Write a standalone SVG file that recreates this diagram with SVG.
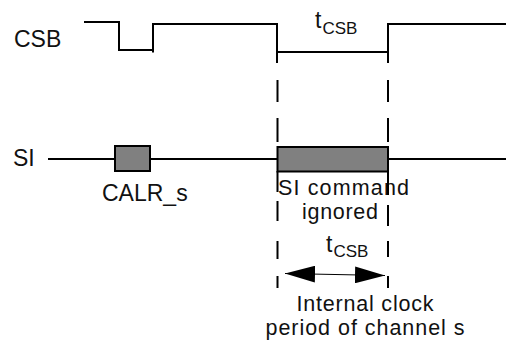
<svg xmlns="http://www.w3.org/2000/svg" width="506" height="341" viewBox="0 0 506 341">
  <style>
    .wave { fill: none; stroke: #000; stroke-width: 2; stroke-linecap: butt; stroke-linejoin: miter; }
    .dash { fill: none; stroke: #000; stroke-width: 2; }
    .box { fill: #808080; stroke: #000; stroke-width: 2; }
    .lbl { font-family: "Liberation Sans", Arial, sans-serif; font-size: 23px; fill: #111; }
    .lbl2 { font-family: "Liberation Sans", Arial, sans-serif; font-size: 21.5px; fill: #111; }
    .arrow { fill: none; stroke: #000; stroke-width: 1.2; }
  </style>
  <defs>
    <marker id="head" markerUnits="userSpaceOnUse" markerWidth="30" markerHeight="17" refX="30" refY="8.5" orient="auto-start-reverse">
      <path d="M0,0 L30,8.5 L0,17 Z" fill="#000"/>
    </marker>
  </defs>
  <rect width="506" height="341" fill="#fff"/>

  <g id="csb-signal">
    <text class="lbl" x="14" y="46.5">CSB</text>
    <polyline class="wave" points="84,22 119,22 119,50 153,50"/>
    <polyline class="wave" points="153,52.5 153,24 277,24 277,52 388,52"/>
    <polyline class="wave" points="277,52 277,63"/>
    <polyline class="wave" points="388,63 388,24 506,24"/>
    <text class="lbl" x="315" y="28" font-size="22">t<tspan dx="1" dy="6" font-size="17">CSB</tspan></text>
  </g>

  <g id="si-signal">
    <text class="lbl" x="13" y="166" font-size="22">SI</text>
    <line class="wave" x1="48" y1="159" x2="115" y2="159"/>
    <line class="wave" x1="150" y1="159" x2="277" y2="159"/>
    <line class="wave" x1="388" y1="159" x2="506" y2="159"/>
  </g>

  <g id="calr-box">
    <rect class="box" x="115" y="146" width="35" height="25"/>
    <text class="lbl" x="102" y="200.5">CALR_s</text>
  </g>

  <g id="ignored-box">
    <rect class="box" x="277.5" y="147" width="110.5" height="24.5"/>
    <text class="lbl2" x="278" y="195" textLength="131" lengthAdjust="spacing">SI command</text>
    <text class="lbl2" x="302" y="219" textLength="76" lengthAdjust="spacing">ignored</text>
  </g>

  <g id="connectors">
    <path class="dash" d="M277.5,80 V102 M277.5,118 V142 M277.5,171 V192 M277.5,201 V221 M277.5,241 V259 M277.5,276 V288"/>
    <path class="dash" d="M388,80 V102 M388,118 V142 M388,171 V195 M388,205 V226 M388,241 V257 M388,276 V288"/>
    <line class="arrow" x1="285" y1="273.5" x2="385" y2="275.5" marker-start="url(#head)" marker-end="url(#head)"/>
  </g>

  <g id="period-label">
    <text class="lbl" x="326" y="252" font-size="22">t<tspan dx="1" dy="5" font-size="17">CSB</tspan></text>
    <text class="lbl2" x="365" y="310.5" text-anchor="middle" textLength="137" lengthAdjust="spacing">Internal clock</text>
    <text class="lbl2" x="365" y="334.5" text-anchor="middle" textLength="199" lengthAdjust="spacing">period of channel s</text>
  </g>
</svg>
